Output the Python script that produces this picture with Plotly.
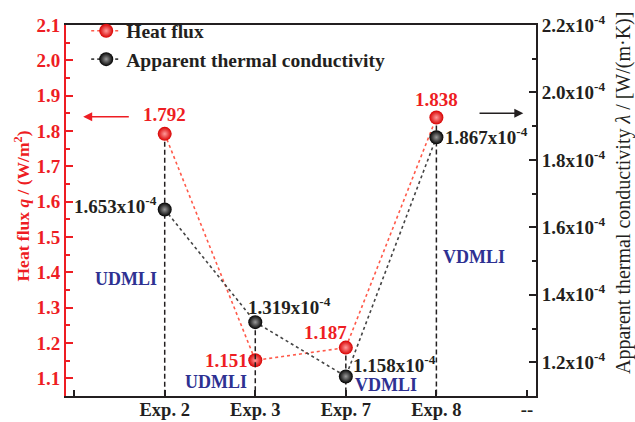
import plotly.graph_objects as go

categories = ["", "Exp. 2", "Exp. 3", "Exp. 7", "Exp. 8", "--"]
exp_idx = [1, 2, 3, 4]
heat_flux = [1.792, 1.151, 1.187, 1.838]
conductivity = [1.653e-4, 1.319e-4, 1.158e-4, 1.867e-4]
heat_labels = ["1.792", "1.151", "1.187", "1.838"]
cond_labels = ["1.653x10<sup>-4</sup>", "1.319x10<sup>-4</sup>", "1.158x10<sup>-4</sup>", "1.867x10<sup>-4</sup>"]
mli_types = ["UDMLI", "UDMLI", "VDMLI", "VDMLI"]
mli_label_y = [1.38, 1.089, 1.081, 1.443]

y1_range = [1.05, 2.1]
y2_range = [1.1e-4, 2.2e-4]
y2_ticks = [1.2e-4, 1.4e-4, 1.6e-4, 1.8e-4, 2.0e-4, 2.2e-4]
y2_ticktext = ["1.2x10<sup>-4</sup>", "1.4x10<sup>-4</sup>", "1.6x10<sup>-4</sup>",
               "1.8x10<sup>-4</sup>", "2.0x10<sup>-4</sup>", "2.2x10<sup>-4</sup>"]
y2_minor = [1.3e-4, 1.5e-4, 1.7e-4, 1.9e-4, 2.1e-4]

RED = "#ee1d23"
BLACK = "#231f20"
BLUE = "#2e3192"
FONT = "Liberation Serif"

fig = go.Figure()

# vertical dashed guide lines from the upper marker of each experiment
for i, x in enumerate(exp_idx):
    fq = (heat_flux[i] - y1_range[0]) / (y1_range[1] - y1_range[0])
    fl = (conductivity[i] - y2_range[0]) / (y2_range[1] - y2_range[0])
    if fq >= fl:
        fig.add_trace(go.Scatter(x=[x, x], y=[heat_flux[i], y1_range[0]], mode="lines",
                                 line=dict(color=BLACK, width=1.5, dash="5px,3px"),
                                 showlegend=False, hoverinfo="skip", yaxis="y"))
    else:
        fig.add_trace(go.Scatter(x=[x, x], y=[conductivity[i], y2_range[0]], mode="lines",
                                 line=dict(color=BLACK, width=1.5, dash="5px,3px"),
                                 showlegend=False, hoverinfo="skip", yaxis="y2"))

fig.add_trace(go.Scatter(
    x=exp_idx, y=heat_flux, mode="lines+markers", name="Heat flux",
    line=dict(color="#ff5a4a", width=1.6, dash="dot"),
    marker=dict(size=14, color="#d80000", gradient=dict(type="radial", color="#ff9a9a")),
    yaxis="y"))
fig.add_trace(go.Scatter(
    x=exp_idx, y=conductivity, mode="lines+markers", name="Apparent thermal conductivity",
    line=dict(color="#444444", width=1.6, dash="dot"),
    marker=dict(size=14, color="#000000", gradient=dict(type="radial", color="#9a9a9a")),
    yaxis="y2"))

ann = []
afont = dict(family=FONT, size=19, weight="bold")
# heat flux labels
hf_pos = [dict(xanchor="center", yanchor="bottom", xshift=0, yshift=7),
          dict(xanchor="right", yanchor="middle", xshift=-5, yshift=0),
          dict(xanchor="right", yanchor="bottom", xshift=3, yshift=3),
          dict(xanchor="center", yanchor="bottom", xshift=0, yshift=6)]
for i, x in enumerate(exp_idx):
    ann.append(dict(x=x, y=heat_flux[i], xref="x", yref="y", text=heat_labels[i], showarrow=False,
                    font=dict(color=RED, **afont), **hf_pos[i]))
cd_pos = [dict(xanchor="right", yanchor="middle", xshift=-6, yshift=4),
          dict(xanchor="left", yanchor="bottom", xshift=-9, yshift=2),
          dict(xanchor="left", yanchor="bottom", xshift=5, yshift=-2),
          dict(xanchor="left", yanchor="middle", xshift=7, yshift=1)]
for i, x in enumerate(exp_idx):
    ann.append(dict(x=x, y=conductivity[i], xref="x", yref="y2", text=cond_labels[i], showarrow=False,
                    font=dict(color=BLACK, **afont), **cd_pos[i]))
mli_pos = [dict(xanchor="right", xshift=-6), dict(xanchor="right", xshift=-6),
           dict(xanchor="left", xshift=7), dict(xanchor="left", xshift=5)]
for i, x in enumerate(exp_idx):
    ann.append(dict(x=x, y=mli_label_y[i], xref="x", yref="y", text=mli_types[i], showarrow=False,
                    yanchor="middle", font=dict(color=BLUE, family=FONT, size=18, weight="bold"),
                    **mli_pos[i]))
# axis pointer arrows
ann.append(dict(x=0.1, y=1.84, ax=0.62, ay=1.84, xref="x", yref="y", axref="x", ayref="y",
                text="", showarrow=True, arrowhead=2, arrowsize=1.2, arrowwidth=1.5, arrowcolor=RED))
ann.append(dict(x=4.96, y=1.85, ax=4.46, ay=1.85, xref="x", yref="y", axref="x", ayref="y",
                text="", showarrow=True, arrowhead=2, arrowsize=1.2, arrowwidth=1.5, arrowcolor=BLACK))
# axis titles
ann.append(dict(x=-0.094, y=0.513, xref="paper", yref="paper", textangle=-90, showarrow=False,
                xanchor="center", yanchor="middle",
                text="Heat flux <i>q</i> / (W/m<sup>2</sup>)",
                font=dict(family=FONT, size=17.5, color=RED, weight="bold")))
ann.append(dict(x=1.185, y=0.547, xref="paper", yref="paper", textangle=-90, showarrow=False,
                xanchor="center", yanchor="middle",
                text="Apparent thermal conductivity <i>λ</i> / [W/(m·K)]",
                font=dict(family=FONT, size=20, color=BLACK)))

fig.update_layout(
    width=635, height=422,
    margin=dict(l=66, r=99, t=16, b=26),
    paper_bgcolor="white", plot_bgcolor="white",
    font=dict(family=FONT, color=BLACK),
    showlegend=True,
    legend=dict(x=0.043, y=1.036, xanchor="left", yanchor="top", bgcolor="rgba(0,0,0,0)",
                font=dict(family=FONT, size=19.5, color=BLACK, weight="bold"),
                tracegroupgap=0, itemwidth=30),
    annotations=ann,
    xaxis=dict(range=[-0.09, 5.1], tickmode="array", tickvals=list(range(len(categories))),
               ticktext=categories, ticks="inside", ticklen=6, tickwidth=1.5, tickcolor=BLACK,
               showline=True, linecolor=BLACK, linewidth=2, mirror=True, showgrid=False,
               zeroline=False, automargin=False, ticklabelstandoff=-4,
               tickfont=dict(family=FONT, size=18.5, color=BLACK, weight="bold")),
    yaxis=dict(range=y1_range, tick0=1.1, dtick=0.1, tickformat=".1f", ticks="inside", ticklen=7,
               tickwidth=1.5, tickcolor=RED, showline=True, linecolor=RED, linewidth=2,
               showgrid=False, zeroline=False, automargin=False,
               minor=dict(ticks="inside", ticklen=4, tick0=1.05, dtick=0.1, tickcolor=RED, tickwidth=1.5),
               tickfont=dict(family=FONT, size=19, color=RED, weight="bold")),
    yaxis2=dict(range=y2_range, overlaying="y", side="right", tickmode="array", tickvals=y2_ticks,
                ticktext=y2_ticktext, ticks="inside", ticklen=7, tickwidth=1.5, tickcolor=BLACK,
                showline=True, linecolor=BLACK, linewidth=2, showgrid=False, zeroline=False,
                automargin=False,
                minor=dict(ticks="inside", ticklen=4, tickmode="array", tickvals=y2_minor,
                           tickcolor=BLACK, tickwidth=1.5),
                tickfont=dict(family=FONT, size=19, color=BLACK, weight="bold")),
)

fig.write_html("out.html")
